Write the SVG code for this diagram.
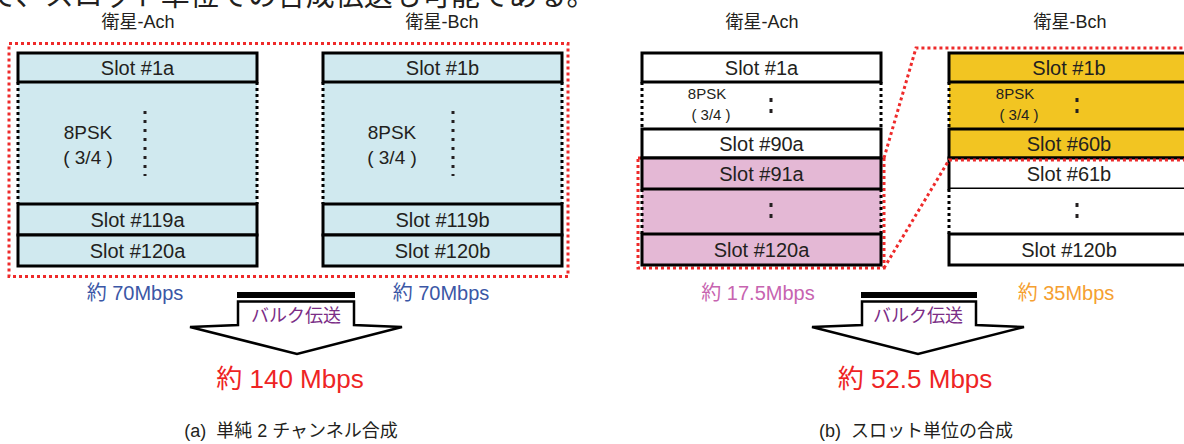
<svg xmlns="http://www.w3.org/2000/svg" width="1184" height="444" viewBox="0 0 1184 444">
<style>
text{font-family:"Liberation Sans","Noto Sans CJK JP",sans-serif;fill:#231f20;text-anchor:middle}
.slot{stroke:#000;stroke-width:3}
.dot{stroke:#000;stroke-width:3;stroke-dasharray:3 3;fill:none}
.red{stroke:#ee2a2a;stroke-width:3;stroke-dasharray:3 3;fill:none}
.st{font-size:20px}
.blue{fill:#d0e9ef}.pink{fill:#e4b8d5}.yel{fill:#f2c522}.wht{fill:#fff}
.vd{stroke:#231f20;stroke-width:3;stroke-dasharray:3 6}
.arr{fill:#fff;stroke:#000;stroke-width:2.5;stroke-linejoin:miter}
.cap{font-size:18px;white-space:pre}
.rate{font-size:20px}
</style>
<rect width="1184" height="444" fill="#fff"/>
<text x="-12" y="6" style="font-size:29px;text-anchor:start">で、スロット単位での合成伝送も可能である。</text>

<!-- Panel (a) -->
<g id="a-titles">
<text x="138" y="28" style="font-size:18px">衛星-Ach</text>
<text x="442" y="28" style="font-size:18px">衛星-Bch</text>
</g>
<rect class="red" x="9" y="43.5" width="559" height="233"/>
<g id="a-colA">
<rect class="blue" x="18" y="82" width="239" height="122"/>
<line class="dot" x1="18" y1="82" x2="18" y2="204"/>
<line class="dot" x1="257" y1="82" x2="257" y2="204"/>
<rect class="slot blue" x="18" y="53" width="239" height="29"/>
<text class="st" x="137.5" y="75">Slot #1a</text>
<text x="88" y="139" style="font-size:19px">8PSK</text>
<text x="88" y="164" style="font-size:19px">( 3/4 )</text>
<line class="vd" x1="145" y1="111" x2="145" y2="176"/>
<rect class="slot blue" x="18" y="204" width="239" height="31"/>
<text class="st" x="137.5" y="227">Slot #119a</text>
<rect class="slot blue" x="18" y="235" width="239" height="31"/>
<text class="st" x="137.5" y="258">Slot #120a</text>
</g>
<g id="a-colB">
<rect class="blue" x="323" y="82" width="239" height="122"/>
<line class="dot" x1="323" y1="82" x2="323" y2="204"/>
<line class="dot" x1="562" y1="82" x2="562" y2="204"/>
<rect class="slot blue" x="323" y="53" width="239" height="29"/>
<text class="st" x="442.5" y="75">Slot #1b</text>
<text x="392" y="139" style="font-size:19px">8PSK</text>
<text x="392" y="164" style="font-size:19px">( 3/4 )</text>
<line class="vd" x1="453" y1="111" x2="453" y2="176"/>
<rect class="slot blue" x="323" y="204" width="239" height="31"/>
<text class="st" x="442.5" y="227">Slot #119b</text>
<rect class="slot blue" x="323" y="235" width="239" height="31"/>
<text class="st" x="442.5" y="258">Slot #120b</text>
</g>
<g id="a-rates">
<text class="rate" x="135" y="300" style="fill:#3b57a6">約 70Mbps</text>
<text class="rate" x="441" y="300" style="fill:#3b57a6">約 70Mbps</text>
</g>
<g id="a-arrow">
<polygon class="arr" points="238,301.5 354,301.5 354,325 402,327 297,354 190,327 238,325"/>
<rect x="237" y="292" width="118" height="6" fill="#000"/>
<text x="296" y="322" style="font-size:18px;fill:#7b2d86">バルク伝送</text>
</g>
<text x="290" y="388" style="font-size:26px;fill:#ee2424">約 140 Mbps</text>
<text class="cap" x="291" y="437">(a)  単純 2 チャンネル合成</text>

<!-- Panel (b) -->
<g id="b-titles">
<text x="762" y="28" style="font-size:18px">衛星-Ach</text>
<text x="1070" y="28" style="font-size:18px">衛星-Bch</text>
</g>
<g id="b-colA">
<rect class="red" x="638" y="158" width="246" height="110"/>
<rect class="wht" x="642" y="82" width="239" height="47"/>
<line class="dot" x1="642" y1="82" x2="642" y2="129"/>
<line class="dot" x1="881" y1="82" x2="881" y2="129"/>
<rect class="slot wht" x="642" y="53" width="239" height="29"/>
<text class="st" x="761.5" y="75">Slot #1a</text>
<text x="707" y="99" style="font-size:15px">8PSK</text>
<text x="711" y="120" style="font-size:15px">( 3/4 )</text>
<rect x="769.5" y="98" width="3" height="4" fill="#231f20"/>
<rect x="769.5" y="109" width="3" height="4" fill="#231f20"/>
<rect class="slot wht" x="642" y="129" width="239" height="29"/>
<text class="st" x="761.5" y="151">Slot #90a</text>
<rect class="pink" x="642" y="189" width="239" height="45"/>
<line class="dot" x1="642" y1="189" x2="642" y2="234"/>
<line class="dot" x1="881" y1="189" x2="881" y2="234"/>
<rect x="769.5" y="203" width="3" height="4" fill="#231f20"/>
<rect x="769.5" y="214" width="3" height="4" fill="#231f20"/>
<rect class="slot pink" x="642" y="158" width="239" height="31"/>
<text class="st" x="761.5" y="181">Slot #91a</text>
<rect class="slot pink" x="642" y="234" width="239" height="31"/>
<text class="st" x="761.5" y="257">Slot #120a</text>
</g>
<g id="b-colB">
<rect class="yel" x="949" y="82" width="240" height="47"/>
<line class="dot" x1="949" y1="82" x2="949" y2="129"/>
<rect class="slot yel" x="949" y="53" width="240" height="29"/>
<text class="st" x="1069" y="75">Slot #1b</text>
<text x="1015" y="99" style="font-size:15px">8PSK</text>
<text x="1019" y="120" style="font-size:15px">( 3/4 )</text>
<rect x="1075.5" y="98" width="3" height="4" fill="#231f20"/>
<rect x="1075.5" y="109" width="3" height="4" fill="#231f20"/>
<rect class="slot yel" x="949" y="129" width="240" height="29"/>
<text class="st" x="1069" y="151">Slot #60b</text>
<rect class="slot wht" x="949" y="158" width="240" height="31"/>
<text class="st" x="1069" y="181">Slot #61b</text>
<rect class="wht" x="949" y="189" width="240" height="45"/>
<line class="dot" x1="949" y1="189" x2="949" y2="234"/>
<rect x="1075.5" y="203" width="3" height="4" fill="#231f20"/>
<rect x="1075.5" y="214" width="3" height="4" fill="#231f20"/>
<rect class="slot wht" x="949" y="234" width="240" height="31"/>
<text class="st" x="1069" y="257">Slot #120b</text>
</g>
<g id="connectors">
<polyline class="red" points="884,158 916,48 1190,48"/>
<polyline class="red" points="884,268 949,160 1190,160"/>
</g>
<g id="b-rates">
<text class="rate" x="758" y="300" style="fill:#c764b0">約 17.5Mbps</text>
<text class="rate" x="1066" y="300" style="fill:#f5a031">約 35Mbps</text>
</g>
<g id="b-arrow">
<polygon class="arr" points="862,301.5 976,301.5 976,325 1024,327 918,354 812,327 862,325"/>
<rect x="861" y="292" width="116" height="6" fill="#000"/>
<text x="918" y="322" style="font-size:18px;fill:#7b2d86">バルク伝送</text>
</g>
<text x="915" y="388" style="font-size:26px;fill:#ee2424">約 52.5 Mbps</text>
<text class="cap" x="916" y="437">(b)  スロット単位の合成</text>
</svg>
